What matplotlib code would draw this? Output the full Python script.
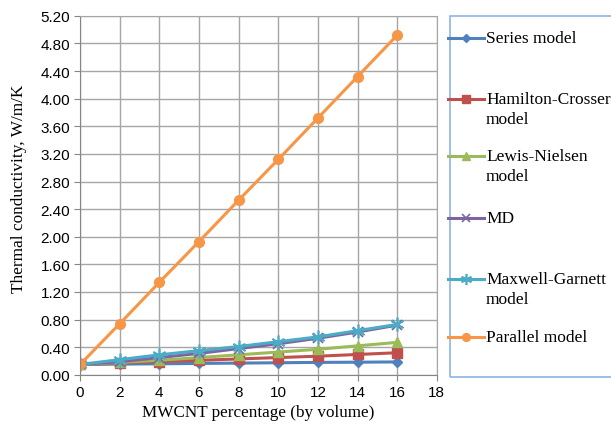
import numpy as np
import matplotlib.pyplot as plt
from matplotlib.lines import Line2D
from matplotlib.patches import Rectangle

# volume percentage of MWCNT
x = [0, 2, 4, 6, 8, 10, 12, 14, 16]

# thermal conductivity, W/m/K
series = [0.15, 0.155, 0.16, 0.165, 0.17, 0.175, 0.18, 0.183, 0.187]
hamilton = [0.15, 0.17, 0.19, 0.21, 0.23, 0.25, 0.27, 0.295, 0.32]
lewis = [0.15, 0.18, 0.21, 0.25, 0.29, 0.33, 0.37, 0.42, 0.47]
md = [0.15, 0.19, 0.25, 0.31, 0.38, 0.45, 0.53, 0.62, 0.72]
maxwell = [0.15, 0.22, 0.29, 0.35, 0.41, 0.48, 0.55, 0.64, 0.73]
parallel = [0.15, 0.74, 1.34, 1.93, 2.53, 3.12, 3.72, 4.32, 4.92]

labels = ['Series model', 'Hamilton-Crosser\nmodel', 'Lewis-Nielsen\nmodel',
          'MD', 'Maxwell-Garnett\nmodel', 'Parallel model']

W, H = 611, 431
fig = plt.figure(figsize=(W / 100, H / 100), dpi=100)
ax = fig.add_axes([0.131, 0.128, 0.584, 0.833])

serif = 'Liberation Serif'
sans = 'Liberation Sans'

styles = [
    dict(color='#4F81BD', marker='D', markersize=5),
    dict(color='#C0504D', marker='s', markersize=6.5),
    dict(color='#9BBB59', marker='^', markersize=7.5),
    dict(color='#8064A2', marker='x', markersize=7, mew=1.2),
    dict(color='#4BACC6', marker=(6, 2, 0), markersize=10, mew=1.2),
    dict(color='#F79646', marker='o', markersize=7),
]
data = [series, hamilton, lewis, md, maxwell, parallel]
for y, st in zip(data, styles):
    ax.plot(x, y, lw=2.2, **st)

ax.set_xlim(0, 18)
ax.set_ylim(0, 5.2)
ax.set_xticks(np.arange(0, 19, 2))
yt = np.arange(0, 5.21, 0.4)
ax.set_yticks(yt)
ax.set_yticklabels(['%.2f' % v for v in yt])
for lab in ax.get_xticklabels() + ax.get_yticklabels():
    lab.set_fontfamily(sans)
    lab.set_fontsize(11)
ax.tick_params(direction='out', length=4, color='#868686', pad=3)
ax.grid(True, color='#A6A6A6', lw=1)
ax.set_axisbelow(True)
for s in ax.spines.values():
    s.set_color('#A6A6A6')
ax.spines['left'].set_color('#868686')
ax.spines['bottom'].set_color('#868686')

ax.set_xlabel('MWCNT percentage (by volume)', fontfamily=serif, fontsize=12.3, labelpad=4)
ax.set_ylabel('Thermal conductivity, W/m/K', fontfamily=serif, fontsize=12.4)
ax.yaxis.set_label_coords(-0.148, 0.52)

# legend box, running off the right edge like the original
fig.patches.append(Rectangle((450 / W, 1 - 378 / H), 0.3, (378 - 17) / H,
                             transform=fig.transFigure, fill=False,
                             edgecolor='#8EB4E3', lw=1.2))
entry_y = [39, 100, 157, 219, 280, 338]
for lab, st, yy in zip(labels, styles, entry_y):
    fy = 1 - yy / H
    ms = st.get('markersize', 6) * 0.8
    st2 = dict(st, markersize=ms)
    fig.add_artist(Line2D([448 / W, 484 / W], [fy, fy], lw=2.2,
                          transform=fig.transFigure, **{k: v for k, v in st2.items() if k != 'marker'}))
    fig.add_artist(Line2D([466 / W], [fy], transform=fig.transFigure, **st2))
    for i, line in enumerate(lab.split('\n')):
        fig.text(486 / W, 1 - (yy + 20 * i) / H, line, fontfamily=serif,
                 fontsize=12.5, va='center', ha='left')

plt.savefig('out.png', dpi=100)
